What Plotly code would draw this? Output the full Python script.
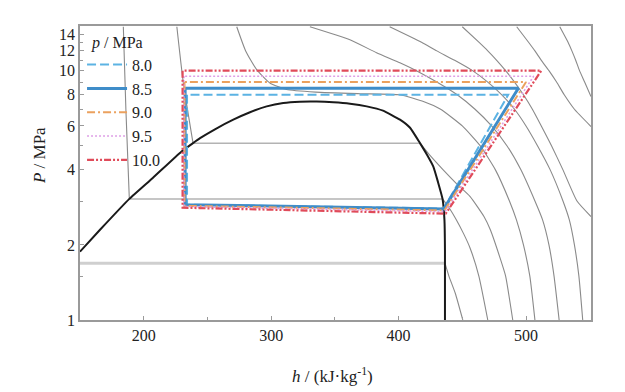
import plotly.graph_objects as go

# ---------------- data ----------------
# saturation dome of CO2
dome_h = [150, 165.7, 188.7, 207.3, 229.5, 238.7, 244.2, 255.9, 270.3, 283.4, 296.5, 309.5, 322.6,
          335.7, 348.8, 361.9, 375.0, 387.8, 401.1, 409.0, 416.8, 422.3, 427.2, 430.9, 434.5,
          436.0, 436.4, 436.4]
dome_p = [1.88, 2.30, 3.06, 3.72, 4.73, 5.12, 5.36, 5.82, 6.36, 6.81, 7.19, 7.42, 7.51,
          7.52, 7.47, 7.37, 7.19, 6.91, 6.36, 5.90, 5.12, 4.60, 4.13, 3.58, 3.06,
          2.52, 1.91, 1.0]

# two-phase constant pressure lines
tp_p = [1.69, 3.06, 5.12]
tp_h_left = [150, 188.7, 238.7]
tp_h_right = [436.4, 434.5, 416.8]

# isotherms (gray): liquid and vapour branches
iso_m25_vap_h = [436.4, 439.5, 444.5, 450.4]
iso_m25_vap_p = [1.69, 1.50, 1.28, 1.0]
iso_m5_liq_h = [184, 186, 188.7]
iso_m5_liq_p = [15, 7, 3.06]
iso_m5_vap_h = [434.5, 440, 445.4, 451, 456, 463, 470]
iso_m5_vap_p = [3.06, 2.80, 2.52, 2.22, 1.95, 1.50, 1.0]
iso_15_liq_h = [226, 231, 238.7]
iso_15_liq_p = [15, 9, 5.12]
iso_15_vap_h = [416.8, 425, 435, 446, 456, 467, 472, 480, 484, 489.6]
iso_15_vap_p = [5.12, 4.55, 4.0, 3.5, 3.13, 2.6, 2.3, 1.75, 1.5, 1.0]
iso_35_h = [273, 280, 288.6, 299, 312, 335, 370, 401, 420, 433, 450, 464, 476, 487, 492.5, 498, 503, 507]
iso_35_p = [15, 12, 10.1, 8.92, 8.4, 8.2, 8.08, 8.0, 7.5, 7.0, 6.0, 5.0, 4.0, 3.0, 2.52, 2.0, 1.5, 1.0]
iso_55_h = [330.4, 361.8, 382.7, 401, 414, 430, 446, 460, 473, 485, 496, 507, 513, 518, 522, 526]
iso_55_p = [15, 13.3, 11.8, 10.76, 10, 9, 8, 7, 6, 5, 4, 3, 2.52, 2, 1.5, 1]
iso_75_h = [393, 418, 430, 444, 458, 470, 481, 491, 500, 509, 519, 529, 534, 538, 541.5, 544.5]
iso_75_p = [15, 13, 12, 11, 10, 9, 8, 7, 6, 5, 4, 3, 2.52, 2, 1.5, 1]
iso_95_h = [450, 463, 470, 477, 484, 491, 498, 505, 512, 520, 529, 540, 551]
iso_95_p = [15, 13, 12, 11, 10, 9, 8, 7, 6, 5, 4, 3, 2.6]
iso_115_h = [492.7, 502, 507, 512, 518, 524, 530, 538, 551]
iso_115_p = [15, 13, 12, 11, 10, 9, 8, 7, 5.97]
iso_135_h = [526.5, 533, 536, 539, 542, 546, 551]
iso_135_p = [15, 13, 12, 11, 10, 9, 7.87]

# transcritical cycles
cycle_labels = ["8.0", "8.5", "9.0", "9.5", "10.0"]
p_high = [8.0, 8.5, 9.0, 9.5, 10.0]
h_gc_out = [234.0, 232.5, 232.0, 231.5, 230.5]
h_comp_out = [486, 494, 500, 506, 512]
p_evap_in = [2.90, 2.90, 2.87, 2.85, 2.82]
p_evap_out = [2.80, 2.79, 2.75, 2.72, 2.67]
h_evap_out = [435.5, 435.5, 436.0, 436.5, 437.0]

cycle_colors = ["#5cb3e3", "#3f8dc9", "#eba15e", "#de9fe6", "#e04b5a"]
cycle_dash = ["9px,4px", "solid", "8px,3px,2px,3px", "2px,2px", "7px,2px,2px,2px,2px,2px"]
cycle_width = [2, 3, 2, 1.6, 2.2]

# ---------------- figure ----------------
fig = go.Figure()
gray = "#8a8a8a"

# two-phase horizontal lines
tp_styles = [("#cfcfcf", 3), ("#b3b3b3", 1.5), ("#b3b3b3", 1.5)]
for p, hl, hr, (c, w) in zip(tp_p, tp_h_left, tp_h_right, tp_styles):
    fig.add_trace(go.Scatter(x=[hl, hr], y=[p, p], mode="lines",
                             line=dict(color=c, width=w), showlegend=False, hoverinfo="skip"))

isotherms = [(iso_m25_vap_h, iso_m25_vap_p), (iso_m5_liq_h, iso_m5_liq_p), (iso_m5_vap_h, iso_m5_vap_p),
             (iso_15_liq_h, iso_15_liq_p), (iso_15_vap_h, iso_15_vap_p),
             (iso_35_h, iso_35_p), (iso_55_h, iso_55_p), (iso_75_h, iso_75_p),
             (iso_95_h, iso_95_p), (iso_115_h, iso_115_p), (iso_135_h, iso_135_p)]
for hh, pp in isotherms:
    fig.add_trace(go.Scatter(x=hh, y=pp, mode="lines",
                             line=dict(color=gray, width=1.1, shape="spline", smoothing=0.5),
                             showlegend=False, hoverinfo="skip"))

fig.add_trace(go.Scatter(x=dome_h, y=dome_p, mode="lines",
                         line=dict(color="#1a1a1a", width=2, shape="spline", smoothing=0.4),
                         showlegend=False, hoverinfo="skip"))

for i, lab in enumerate(cycle_labels):
    xs = [h_gc_out[i], h_gc_out[i], h_evap_out[i], h_comp_out[i], h_gc_out[i]]
    ys = [p_high[i], p_evap_in[i], p_evap_out[i], p_high[i], p_high[i]]
    fig.add_trace(go.Scatter(x=xs, y=ys, mode="lines", name=lab,
                             line=dict(color=cycle_colors[i], width=cycle_width[i], dash=cycle_dash[i])))

serif = "Liberation Serif, Times New Roman, serif"
axis_common = dict(showline=True, linecolor="#9a9a9a", linewidth=1.5, mirror=True,
                   ticks="inside", ticklen=4, tickcolor="#9a9a9a", showgrid=False, zeroline=False,
                   tickfont=dict(family=serif, size=16, color="#222"))

# the page adds an 8px body margin, margins compensate for it
fig.update_layout(
    width=625, height=392,
    margin=dict(l=72, r=42, t=18, b=80),
    paper_bgcolor="white", plot_bgcolor="white",
    font=dict(family=serif, size=16, color="#222"),
    xaxis=dict(range=[150, 551], tickvals=[200, 300, 400, 500],
               minor=dict(tickvals=[250, 350, 450], ticks="inside", ticklen=3, tickcolor="#9a9a9a"),
               **axis_common),
    yaxis=dict(type="log", range=[0, 1.179], tickvals=[1, 2, 4, 6, 8, 10, 12, 14],
               ticktext=["1", "2", "4", "6", "8", "10", "12", "14"],
               minor=dict(tickvals=[1.5, 3, 5, 7, 9, 11, 13], ticks="inside", ticklen=3, tickcolor="#9a9a9a"),
               **axis_common),
    legend=dict(x=0.004, y=0.997, xanchor="left", yanchor="top", bgcolor="rgba(0,0,0,0)",
                title=dict(text="&nbsp;&nbsp;<i>p</i> / MPa", font=dict(family=serif, size=16)),
                font=dict(family=serif, size=16), itemwidth=40, tracegroupgap=0),
    annotations=[
        dict(text="<i>h</i> / (kJ·kg<sup>-1</sup>)", xref="paper", yref="paper", x=0.494, y=-0.187,
             xanchor="center", yanchor="middle", showarrow=False, font=dict(family=serif, size=17)),
        dict(text="<i>P</i> / MPa", xref="paper", yref="paper", x=-0.078, y=0.558, textangle=-90,
             xanchor="center", yanchor="middle", showarrow=False, font=dict(family=serif, size=17)),
    ],
)

fig.write_html("out.html")
